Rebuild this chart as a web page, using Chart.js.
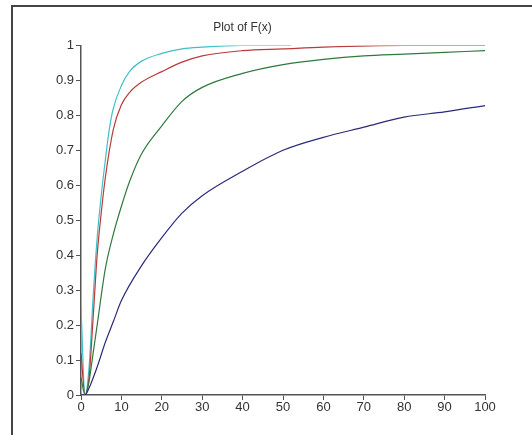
<!DOCTYPE html>
<html><head><meta charset="utf-8">
<script src="https://cdn.jsdelivr.net/npm/chart.js@4"></script>
<style>
body{margin:0;background:#fff;}
#wrap{position:relative;width:532px;height:435px;}
#frame{position:absolute;left:11px;top:5px;width:540px;height:460px;border:2px solid #444;border-right-color:#999;}
canvas{position:absolute;left:0;top:0;}
</style></head>
<body><div id="wrap"><div id="frame"></div><canvas id="c" width="532" height="435"></canvas></div>
<script>
// values
const cyanX  = [0,1,2,3,4,5,6,7,8,10,12,15,20,25,30,40,52];
const cyanY  = [0.25,0,0.08,0.28,0.45,0.57,0.67,0.76,0.82,0.885,0.925,0.955,0.977,0.99,0.995,1,1];
const redX   = [0,1,2,3,4,5,6,8,10,12,15,20,25,30,40,50,60,80,100];
const redY   = [0.12,0,0.05,0.22,0.4,0.52,0.62,0.76,0.83,0.865,0.895,0.925,0.952,0.97,0.985,0.99,0.995,1,1];
const greenX = [0,1,2,3,4,6,8,10,12,15,20,25,30,40,50,60,70,80,90,100];
const greenY = [0.05,0,0.04,0.12,0.2,0.36,0.46,0.54,0.61,0.69,0.77,0.84,0.88,0.92,0.945,0.96,0.97,0.975,0.98,0.985];
const blueX  = [0,1,2,4,6,8,10,15,20,25,30,40,50,60,70,80,90,100];
const blueY  = [0,0,0.02,0.08,0.15,0.21,0.27,0.37,0.45,0.52,0.57,0.64,0.7,0.737,0.766,0.795,0.81,0.828];
const xTicks = [0,10,20,30,40,50,60,70,80,90,100];
const yTicks = [0,0.1,0.2,0.3,0.4,0.5,0.6,0.7,0.8,0.9,1];

function pts(xs,ys){ return xs.map((x,i)=>({x:x,y:ys[i]})); }
function ds(xs,ys,col){ return {data:pts(xs,ys),borderColor:col,borderWidth:1.2,pointRadius:0,cubicInterpolationMode:'monotone',fill:false}; }

new Chart(document.getElementById('c'),{
  type:'line',
  data:{datasets:[
    ds(blueX,blueY,'#2a2a7a'),
    ds(greenX,greenY,'#2e7a3e'),
    ds(redX,redY,'#b83a3a'),
    ds(cyanX,cyanY,'#3fc0c8')
  ]},
  options:{
    responsive:false,animation:false,
    layout:{padding:{right:47,top:0,bottom:0,left:0}},
    plugins:{legend:{display:false},tooltip:{enabled:false},
      title:{display:true,text:'Plot of F(x)',color:'#333',font:{family:'Liberation Sans',size:12,weight:'normal'},padding:{top:20,bottom:11}}},
    scales:{
      x:{type:'linear',min:0,max:100,
        afterBuildTicks:s=>{s.ticks=xTicks.map(v=>({value:v}));},
        afterFit:s=>{s.height=40;},
        border:{color:'#555',width:1.5},
        grid:{drawOnChartArea:false,color:'#555',tickLength:5},
        ticks:{color:'#333',font:{family:'Liberation Sans',size:13},padding:0,maxRotation:0}},
      y:{min:0,max:1,
        afterBuildTicks:s=>{s.ticks=yTicks.map(v=>({value:v}));},
        afterFit:s=>{s.width=81;},
        border:{color:'#555',width:1.5},
        grid:{drawOnChartArea:false,color:'#555',tickLength:5},
        ticks:{color:'#333',font:{family:'Liberation Sans',size:13},padding:2,callback:v=>String(+v.toFixed(1))}}
    }
  }
});
</script></body></html>
